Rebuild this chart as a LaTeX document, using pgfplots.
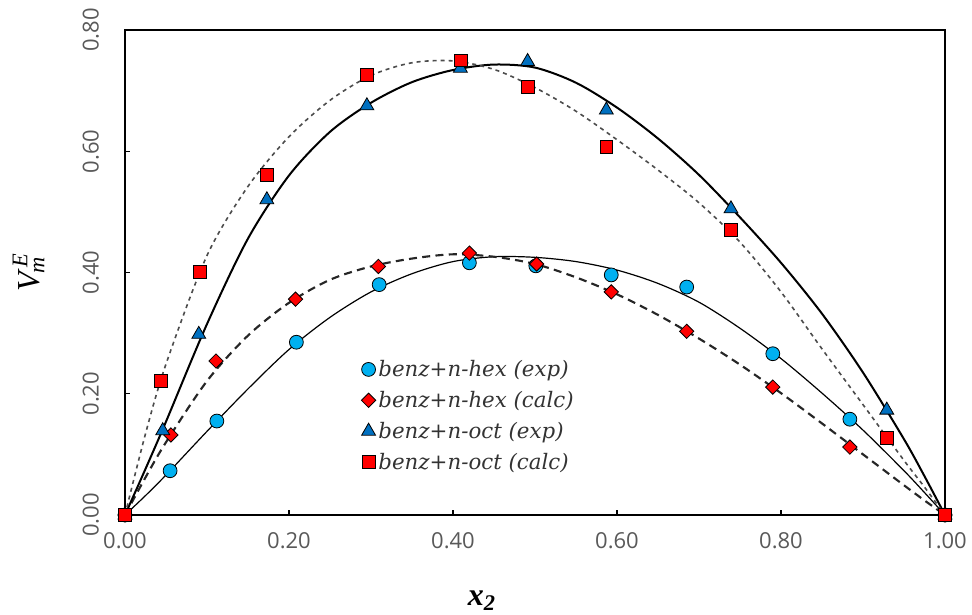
\documentclass[border=0pt]{standalone}
\usepackage{pgfplots}
\pgfplotsset{compat=1.18}
\usepackage{fontspec}
\setmainfont{Open Sans}
\newfontfamily\legfont{DejaVu Serif}
\newfontfamily\labfont{Liberation Serif}
\definecolor{cexp}{RGB}{0,176,240}
\definecolor{oexp}{RGB}{0,112,192}
\definecolor{tickgray}{RGB}{89,89,89}
\begin{document}
\begin{tikzpicture}
\begin{axis}[
  name=ax,
  scale only axis, width=615pt, height=363.75pt,
  xmin=0, xmax=1, ymin=0, ymax=0.8,
  xtick={0,0.2,...,1.0}, ytick={0,0.2,...,0.8},
  tick pos=left, tick align=inside, major tick length=4pt,
  axis line style={line width=2pt, black},
  tick style={line width=1pt, black},
  /pgf/number format/assume math mode=true,
  xticklabel={\pgfmathprintnumber[fixed,fixed zerofill,precision=2]{\tick}},
  yticklabel={\pgfmathprintnumber[fixed,fixed zerofill,precision=2]{\tick}},
  tick label style={font=\fontsize{16.5}{18}\selectfont, text=tickgray},
  xticklabel shift=10pt,
  yticklabel style={rotate=90, anchor=south},
  yticklabel shift=16pt,
  xlabel={\labfont\bfseries\itshape x\textsubscript{2}},
  xlabel style={font=\fontsize{24}{26}\selectfont, at={(axis description cs:0.435,0)}, anchor=north, yshift=-53pt},
  ylabel={\labfont\itshape V\textsubscript{\kern-1pt m}\kern-8pt\textsuperscript{E}},
  ylabel style={font=\fontsize{24}{26}\selectfont, at={(axis description cs:0,0.5)}, anchor=south, yshift=57pt},
  legend style={at={(axis description cs:0.288,0.325)}, anchor=north west, draw=none, fill=none,
    font=\legfont\itshape\fontsize{16}{18}\selectfont, text=black!80,
    row sep=5.5pt, inner sep=0pt},
  legend cell align=left,
  clip=false,
]
% fitted curves
\addplot[forget plot, black, line width=0.9pt, smooth] coordinates {
 (0,0) (0.025,0.032) (0.05,0.066) (0.1,0.138) (0.15,0.208) (0.2,0.273) (0.25,0.326)
 (0.3,0.368) (0.35,0.398) (0.4,0.418) (0.45,0.426) (0.5,0.425) (0.55,0.418) (0.6,0.404)
 (0.65,0.382) (0.7,0.351) (0.75,0.308) (0.8,0.258) (0.85,0.201) (0.9,0.140) (0.95,0.073) (0.975,0.037) (1,0)};
\addplot[forget plot, black!85, line width=1.6pt, dash pattern=on 6pt off 4pt, smooth] coordinates {
 (0,0) (0.025,0.062) (0.05,0.120) (0.1,0.221) (0.15,0.296) (0.2,0.350) (0.25,0.388)
 (0.3,0.410) (0.35,0.423) (0.4,0.430) (0.45,0.426) (0.5,0.414) (0.55,0.392) (0.6,0.364)
 (0.65,0.330) (0.7,0.291) (0.75,0.248) (0.8,0.201) (0.85,0.151) (0.9,0.100) (0.95,0.049) (0.975,0.024) (1,0)};
\addplot[forget plot, black, line width=1.5pt, smooth] coordinates {
 (0,0) (0.025,0.076) (0.05,0.154) (0.1,0.315) (0.15,0.456) (0.2,0.560) (0.25,0.632)
 (0.3,0.680) (0.35,0.714) (0.4,0.734) (0.45,0.743) (0.5,0.738) (0.55,0.713) (0.6,0.672)
 (0.65,0.621) (0.7,0.561) (0.75,0.491) (0.8,0.416) (0.85,0.332) (0.9,0.235) (0.95,0.125) (0.975,0.064) (1,0)};
\addplot[forget plot, black!70, line width=1.2pt, dash pattern=on 3pt off 3pt, smooth] coordinates {
 (0,0) (0.025,0.134) (0.05,0.249) (0.1,0.428) (0.15,0.542) (0.2,0.624) (0.25,0.684)
 (0.3,0.725) (0.35,0.746) (0.4,0.749) (0.45,0.735) (0.5,0.705) (0.55,0.666) (0.6,0.619)
 (0.65,0.569) (0.7,0.515) (0.75,0.450) (0.8,0.368) (0.85,0.274) (0.9,0.182) (0.95,0.090) (0.975,0.046) (1,0)};
% data points
\addplot[only marks, mark=*, mark size=5.2pt, mark options={fill=cexp, draw=black, line width=0.6pt}] coordinates {
 (0,0) (0.055,0.073) (0.112,0.155) (0.209,0.285) (0.31,0.380) (0.42,0.416) (0.501,0.411)
 (0.593,0.396) (0.685,0.376) (0.79,0.266) (0.884,0.158) (1,0)};
\addlegendentry{benz+n-hex (exp)}
\addplot[only marks, mark=square*, mark size=3.8pt, mark options={rotate=45, fill=red, draw=black, line width=0.6pt}] coordinates {
 (0,0) (0.056,0.132) (0.111,0.254) (0.208,0.356) (0.309,0.410) (0.42,0.432) (0.502,0.414)
 (0.593,0.368) (0.685,0.303) (0.79,0.211) (0.884,0.112) (1,0)};
\addlegendentry{benz+n-hex (calc)}
\addplot[only marks, mark=triangle*, mark size=6pt, mark options={fill=oexp, draw=black, line width=0.6pt}] coordinates {
 (0,0) (0.046,0.139) (0.09,0.298) (0.173,0.520) (0.295,0.675) (0.409,0.737) (0.491,0.748)
 (0.587,0.668) (0.739,0.505) (0.929,0.173) (1,0)};
\addlegendentry{benz+n-oct (exp)}
\addplot[only marks, mark=square*, mark size=4.8pt, mark options={fill=red, draw=black, line width=0.6pt}] coordinates {
 (0,0) (0.044,0.221) (0.091,0.401) (0.173,0.561) (0.295,0.726) (0.41,0.750) (0.491,0.706)
 (0.587,0.607) (0.739,0.470) (0.929,0.127) (1,0)};
\addlegendentry{benz+n-oct (calc)}
\end{axis}
\useasboundingbox ([xshift=-93.75pt,yshift=-74.25pt]ax.south west) rectangle ([xshift=20.25pt,yshift=22.5pt]ax.north east);
\end{tikzpicture}
\end{document}
